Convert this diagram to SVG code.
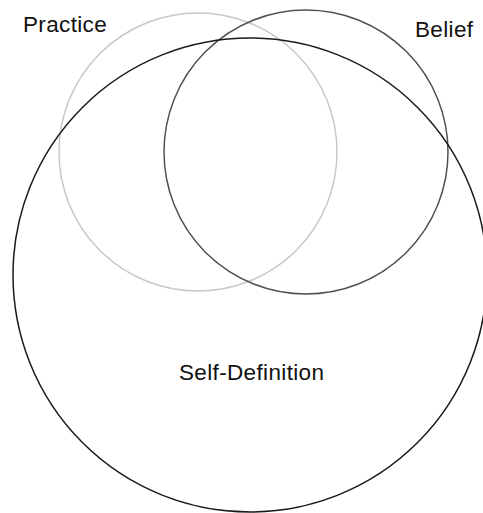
<svg xmlns="http://www.w3.org/2000/svg" width="483" height="513" viewBox="0 0 483 513">
<style>
.c{fill:none;stroke-width:1.5}
.t{font-family:"Liberation Sans",Arial,sans-serif;font-size:22.5px;letter-spacing:0.35px;fill:#111}
</style>
<rect width="483" height="513" fill="#fff"/>
<g id="practice">
<circle class="c" cx="198" cy="152" r="139" stroke="#c8c8c8"/>
<text class="t" x="23" y="31.5">Practice</text>
</g>
<g id="belief">
<circle class="c" cx="306" cy="152" r="142" stroke="#505050"/>
<text class="t" x="415" y="36.5">Belief</text>
</g>
<g id="self-definition">
<circle class="c" cx="250" cy="275" r="237" stroke="#1a1a1a"/>
<text class="t" x="179" y="380">Self-Definition</text>
</g>
<g id="connectors"/>
</svg>
